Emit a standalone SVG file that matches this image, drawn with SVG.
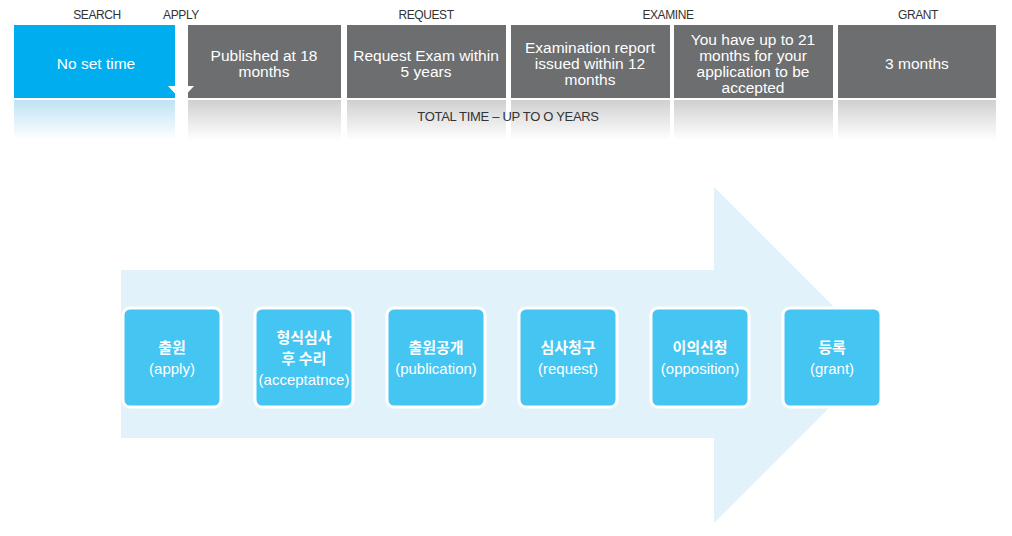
<svg xmlns="http://www.w3.org/2000/svg" width="1012" height="536" viewBox="0 0 1012 536">
<defs>
<linearGradient id="refBlue" x1="0" y1="0" x2="0" y2="1">
<stop offset="0" stop-color="#bfe3f4"/>
<stop offset="1" stop-color="#ffffff"/>
</linearGradient>
<linearGradient id="refGray" x1="0" y1="0" x2="0" y2="1">
<stop offset="0" stop-color="#d0d0d2"/>
<stop offset="1" stop-color="#ffffff"/>
</linearGradient>
<style>
.hdr{font-family:"Liberation Sans",Arial,sans-serif;font-size:12px;fill:#333;text-anchor:middle;letter-spacing:-0.4px}
.bt{font-family:"Liberation Sans",Arial,sans-serif;font-size:15.5px;fill:#fff;text-anchor:middle}
.gray{fill:#6d6e70}
.blue{fill:#00aeef}
.node rect{fill:#45c5f1;stroke:#ffffff;stroke-width:3}
.nt{font-family:"Liberation Sans","Noto Sans CJK KR",sans-serif;font-size:15px;fill:#fff;text-anchor:middle}
.kt{font-family:"Noto Sans CJK KR","Liberation Sans",sans-serif;font-size:15px;font-weight:bold;fill:#fff;text-anchor:middle}
</style>
</defs>
<rect width="1012" height="536" fill="#ffffff"/>

<!-- headers -->
<g id="headers">
<text class="hdr" x="97" y="19">SEARCH</text>
<text class="hdr" x="181" y="19">APPLY</text>
<text class="hdr" x="426" y="19">REQUEST</text>
<text class="hdr" x="668" y="19">EXAMINE</text>
<text class="hdr" x="918" y="19">GRANT</text>
</g>

<!-- reflections -->
<g id="reflections">
<rect x="14" y="100" width="161" height="40" fill="url(#refBlue)"/>
<rect x="188" y="100" width="153" height="40" fill="url(#refGray)"/>
<rect x="347" y="100" width="159" height="40" fill="url(#refGray)"/>
<rect x="511" y="100" width="159" height="40" fill="url(#refGray)"/>
<rect x="674" y="100" width="159" height="40" fill="url(#refGray)"/>
<rect x="838" y="100" width="158" height="40" fill="url(#refGray)"/>
<text class="hdr" x="508" y="121" style="font-size:13px;letter-spacing:-0.3px">TOTAL TIME – UP TO O YEARS</text>
</g>

<g id="t-search">
<rect class="blue" x="14" y="25" width="161" height="73"/>
<text class="bt" x="96" y="69">No set time</text>
</g>
<g id="t-publish">
<rect class="gray" x="188" y="25" width="153" height="73"/>
<text class="bt" x="264" y="61">Published at 18</text>
<text class="bt" x="264" y="77">months</text>
</g>
<g id="t-apply">
<polygon points="168,86 194,86 181,100" fill="#ffffff"/>
</g>
<g id="t-request">
<rect class="gray" x="347" y="25" width="159" height="73"/>
<text class="bt" x="426" y="61">Request Exam within</text>
<text class="bt" x="426" y="77">5 years</text>
</g>
<g id="t-exam">
<rect class="gray" x="511" y="25" width="159" height="73"/>
<text class="bt" x="590" y="53">Examination report</text>
<text class="bt" x="590" y="69">issued within 12</text>
<text class="bt" x="590" y="85">months</text>
</g>
<g id="t-accept">
<rect class="gray" x="674" y="25" width="159" height="73"/>
<text class="bt" x="753" y="45">You have up to 21</text>
<text class="bt" x="753" y="61">months for your</text>
<text class="bt" x="753" y="77">application to be</text>
<text class="bt" x="753" y="93">accepted</text>
</g>
<g id="t-grant">
<rect class="gray" x="838" y="25" width="158" height="73"/>
<text class="bt" x="917" y="69">3 months</text>
</g>

<!-- big arrow -->
<g id="arrow">
<polygon points="121,270 714,270 714,187 882,355 714,523 714,438 121,438" fill="#e1f2fb"/>
</g>

<g id="connectors"></g>

<g id="n1" class="node">
<rect x="123" y="308" width="98" height="99" rx="7"/>
<text class="kt" x="172" y="353">출원</text>
<text class="nt" x="172" y="374">(apply)</text>
</g>
<g id="n2" class="node">
<rect x="255" y="308" width="98" height="99" rx="7"/>
<text class="kt" x="304" y="343">형식심사</text>
<text class="kt" x="304" y="364">후 수리</text>
<text class="nt" x="304" y="385">(acceptatnce)</text>
</g>
<g id="n3" class="node">
<rect x="387" y="308" width="98" height="99" rx="7"/>
<text class="kt" x="436" y="353">출원공개</text>
<text class="nt" x="436" y="374">(publication)</text>
</g>
<g id="n4" class="node">
<rect x="519" y="308" width="98" height="99" rx="7"/>
<text class="kt" x="568" y="353">심사청구</text>
<text class="nt" x="568" y="374">(request)</text>
</g>
<g id="n5" class="node">
<rect x="651" y="308" width="98" height="99" rx="7"/>
<text class="kt" x="700" y="353">이의신청</text>
<text class="nt" x="700" y="374">(opposition)</text>
</g>
<g id="n6" class="node">
<rect x="783" y="308" width="98" height="99" rx="7"/>
<text class="kt" x="832" y="353">등록</text>
<text class="nt" x="832" y="374">(grant)</text>
</g>
</svg>
